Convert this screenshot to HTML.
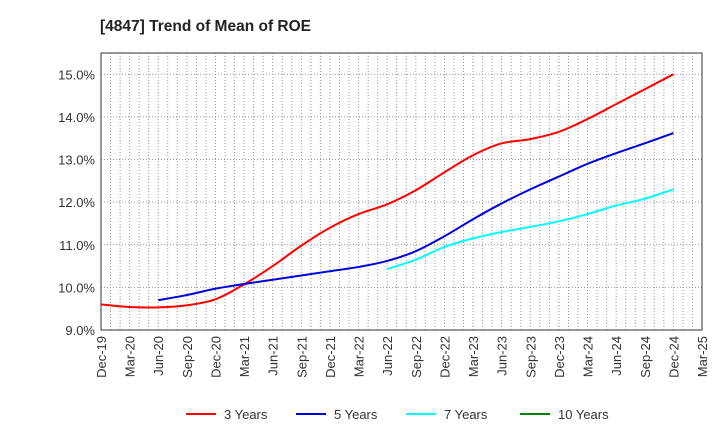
<!DOCTYPE html>
<html><head><meta charset="utf-8"><style>
body{margin:0;background:#fff;font-family:"Liberation Sans",sans-serif;}
svg text{font-family:"Liberation Sans",sans-serif;}
</style></head><body>
<svg id="chart" width="720" height="440" xmlns="http://www.w3.org/2000/svg">
<text x="100" y="31" font-size="15.5" font-weight="bold" fill="#222">[4847]  Trend of Mean of ROE</text>
<g id="grid"></g>
<g id="axes"></g>
<g id="series"></g>
<g id="legend"></g>
</svg>
<script>
const xLabels=["Dec-19","Mar-20","Jun-20","Sep-20","Dec-20","Mar-21","Jun-21","Sep-21","Dec-21","Mar-22","Jun-22","Sep-22","Dec-22","Mar-23","Jun-23","Sep-23","Dec-23","Mar-24","Jun-24","Sep-24","Dec-24","Mar-25"];
const yTicks=[9,10,11,12,13,14,15];
const s3=[9.6,9.54,9.53,9.58,9.72,10.07,10.5,10.98,11.4,11.72,11.95,12.28,12.7,13.1,13.38,13.48,13.65,13.95,14.3,14.65,15.0];
const s3Start=0;
const s5=[9.7,9.82,9.97,10.08,10.18,10.28,10.38,10.48,10.62,10.85,11.2,11.6,11.97,12.3,12.6,12.9,13.15,13.38,13.62];
const s5Start=2;
const s7=[10.43,10.65,10.95,11.15,11.3,11.42,11.55,11.72,11.92,12.08,12.3];
const s7Start=10;
const s10=[];
const s10Start=0;

const NS="http://www.w3.org/2000/svg";
const L=101,R=702,T=53,B=330,yMin=9,yMax=15.5;
const nQ=xLabels.length-1;
const xs=i=>L+(R-L)*i/nQ;
const ys=v=>B-(B-T)*(v-yMin)/(yMax-yMin);
function mk(tag,attrs,parent){const e=document.createElementNS(NS,tag);for(const k in attrs)e.setAttribute(k,attrs[k]);parent.appendChild(e);return e;}
const grid=document.getElementById('grid'),axes=document.getElementById('axes'),series=document.getElementById('series'),legend=document.getElementById('legend');
for(let m=1;m<nQ*3;m++){const x=L+(R-L)*m/(nQ*3);
 const l=mk('line',{x1:x,x2:x,y1:T,y2:B,stroke:'#999','stroke-dasharray':'1,2','stroke-width':1},grid);
 
 }
yTicks.forEach(v=>{const y=ys(v);
 const l=mk('line',{x1:L,x2:R,y1:y,y2:y,stroke:'#999','stroke-dasharray':'1,2'},grid);
 
 
 const t=mk('text',{x:L-6,y:y+5,'text-anchor':'end','font-size':13,fill:'#333'},axes);t.textContent=v.toFixed(1)+'%';
 
 });
const frame=mk('rect',{x:L,y:T,width:R-L,height:B-T,fill:'none',stroke:'#333','stroke-width':1},axes);


xLabels.forEach((lab,i)=>{const x=xs(i);
 const t=mk('text',{x:0,y:0,'text-anchor':'end','font-size':13,fill:'#333',transform:`translate(${x+5},${B+6}) rotate(-90)`},axes);t.textContent=lab;
 
 });
function path(vals,start){if(!vals.length)return '';const p=vals.map((v,i)=>[xs(start+i),ys(v)]);let d=`M${p[0][0]},${p[0][1]}`;
 for(let i=0;i<p.length-1;i++){const p0=p[i-1]||p[i],p1=p[i],p2=p[i+1],p3=p[i+2]||p2;
  const c1=[p1[0]+(p2[0]-p0[0])/6,p1[1]+(p2[1]-p0[1])/6],c2=[p2[0]-(p3[0]-p1[0])/6,p2[1]-(p3[1]-p1[1])/6];
  d+=`C${c1[0]},${c1[1]} ${c2[0]},${c2[1]} ${p2[0]},${p2[1]}`;}return d;}
const defs=[[s3,s3Start,'#ff0000','3 Years','line-3-years',186],[s5,s5Start,'#0000dd','5 Years','line-5-years',296],[s7,s7Start,'#00ffff','7 Years','line-7-years',406],[s10,s10Start,'#008000','10 Years','line-10-years',520]];
defs.forEach(([v,s,c,lab,name,lx])=>{
 if(v.length){const p=mk('path',{d:path(v,s),fill:'none',stroke:c,'stroke-width':2},series);
  
  }
 const g=mk('g',{},legend);
 
 
 mk('line',{x1:lx,x2:lx+30,y1:414,y2:414,stroke:c,'stroke-width':2},g);
 const t=mk('text',{x:lx+38,y:419,'font-size':13,fill:'#333'},g);t.textContent=lab;});
</script>
</body></html>
